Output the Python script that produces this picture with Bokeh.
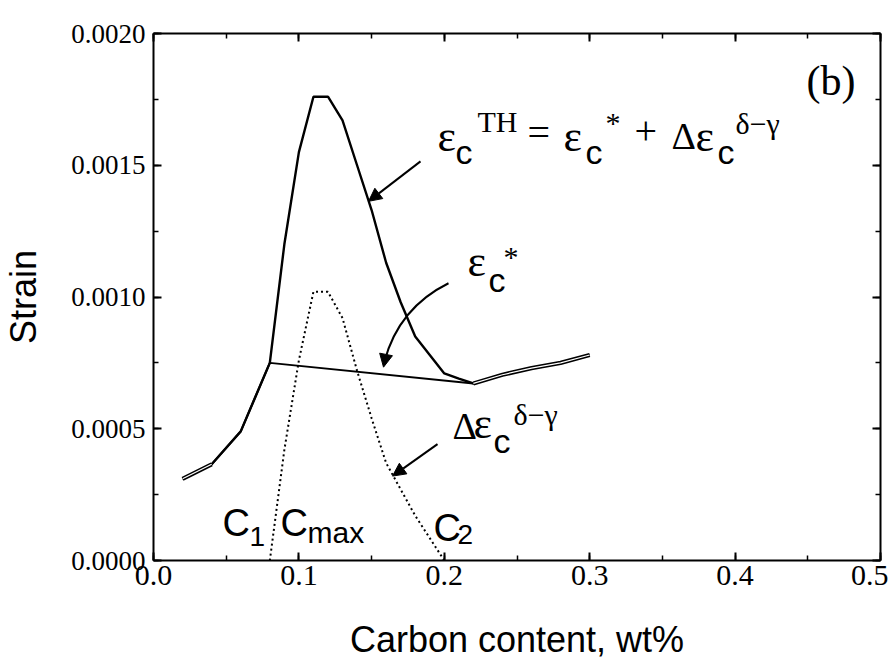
import math
from bokeh.plotting import figure
from bokeh.models import (LinearAxis, Range1d, PrintfTickFormatter, CustomJSTickFormatter,
                          Label, Arrow, NormalHead, SingleIntervalTicker)
from bokeh.embed import file_html
from bokeh.resources import INLINE

# ---------------- data ----------------
carbon_th = [0.02, 0.04, 0.06, 0.08, 0.09, 0.10, 0.11, 0.12, 0.13, 0.14, 0.15,
             0.16, 0.17, 0.18, 0.19, 0.20, 0.21, 0.22, 0.24, 0.26, 0.28, 0.30]
strain_th = [0.00031, 0.000365, 0.00049, 0.00075, 0.00120, 0.00155, 0.00176, 0.00176,
             0.00167, 0.00150, 0.00133, 0.00113, 0.00098, 0.00085, 0.00078, 0.00071,
             0.00069, 0.000672, 0.000705, 0.00073, 0.00075, 0.00078]

carbon_star = [0.02, 0.04, 0.06, 0.08, 0.22, 0.24, 0.26, 0.28, 0.30]
strain_star = [0.00031, 0.000365, 0.00049, 0.00075, 0.000672, 0.000705, 0.00073, 0.00075, 0.00078]

carbon_delta = [0.08, 0.09, 0.10, 0.11, 0.12, 0.13, 0.14, 0.15, 0.16, 0.18, 0.20]
strain_delta = [0.0, 0.00042, 0.00076, 0.00102, 0.00102, 0.00092, 0.00072, 0.00054,
                0.00037, 0.00017, 0.0]

x_ticks_step = 0.1
y_ticks_step = 0.0005
x_label = "Carbon content, wt%"
y_label = "Strain"

SERIF = "Liberation Serif"
SANS = "Liberation Sans"

# ---------------- figure ----------------
p = figure(width=888, height=662, output_backend="svg", toolbar_location=None,
           x_range=Range1d(0, 0.5), y_range=Range1d(0, 0.002),
           min_border_left=153, min_border_right=8, min_border_top=33, min_border_bottom=102)
p.grid.visible = False
p.outline_line_color = None
p.background_fill_color = "white"
p.border_fill_color = "white"


def style_axis(ax):
    ax.axis_line_width = 2
    ax.axis_line_color = "black"
    ax.major_tick_in = 8
    ax.major_tick_out = 0
    ax.minor_tick_in = 5
    ax.minor_tick_out = 0
    ax.major_tick_line_width = 2
    ax.minor_tick_line_width = 1.5
    ax.major_tick_line_color = "black"
    ax.minor_tick_line_color = "black"
    ax.major_label_text_color = "black"


xax = p.xaxis[0]
xax.ticker = SingleIntervalTicker(interval=x_ticks_step, num_minor_ticks=2)
xax.formatter = PrintfTickFormatter(format="%.1f")
xax.major_label_text_font = SERIF
xax.major_label_text_font_size = "30px"
xax.major_label_standoff = 5
xax.axis_label = x_label
xax.axis_label_text_font = SANS
xax.axis_label_text_font_size = "36px"
xax.axis_label_text_font_style = "normal"
xax.axis_label_text_color = "black"
xax.axis_label_standoff = 31
style_axis(xax)

yax = p.yaxis[0]
yax.ticker = SingleIntervalTicker(interval=y_ticks_step, num_minor_ticks=2)
yax.formatter = PrintfTickFormatter(format="%.4f")
yax.major_label_text_font = SERIF
yax.major_label_text_font_size = "27px"
yax.major_label_standoff = 8
yax.axis_label = y_label
yax.axis_label_text_font = SANS
yax.axis_label_text_font_size = "36px"
yax.axis_label_text_font_style = "normal"
yax.axis_label_text_color = "black"
yax.axis_label_standoff = 24
style_axis(yax)

top = LinearAxis(ticker=SingleIntervalTicker(interval=x_ticks_step, num_minor_ticks=2),
                 formatter=CustomJSTickFormatter(code="return ''"), major_label_standoff=0)
style_axis(top)
p.add_layout(top, "above")
right = LinearAxis(ticker=SingleIntervalTicker(interval=y_ticks_step, num_minor_ticks=2),
                   formatter=CustomJSTickFormatter(code="return ''"), major_label_standoff=0)
style_axis(right)
p.add_layout(right, "right")

# ---------------- lines ----------------
p.line(carbon_th, strain_th, line_color="black", line_width=2.4)
p.line(carbon_star, strain_star, line_color="black", line_width=2.0)
# double-line look where the two curves coincide
for lo, hi in ((0.0, 0.04), (0.22, 1.0)):
    xs = [c for c in carbon_star if lo <= c <= hi]
    ys = [s for c, s in zip(carbon_star, strain_star) if lo <= c <= hi]
    p.line(xs, ys, line_color="black", line_width=4.2)
    p.line(xs, ys, line_color="white", line_width=1.2)
p.line(carbon_delta, strain_delta, line_color="black", line_width=2.0, line_dash="2 3")


# ---------------- annotations (placed in picture pixels) ----------------
def px_x(px):
    return (px - 153.0) / 1454.0


def px_y(py):
    return (559.5 - py) / 263750.0


MID = 0.345  # distance (in em) from baseline up to the middle of the text box


def add_text(text, px, base, size, font):
    p.add_layout(Label(x=px_x(px), y=px_y(base - MID * size), text=text, text_font=font,
                       text_font_size=f"{size}px", text_color="black", text_align="left",
                       text_baseline="middle"))


pieces = [
    # equation
    ("ε", 437, 150, 44, SERIF), ("c", 455, 162, 34, SANS), ("TH", 477, 130, 30, SERIF),
    ("=", 527, 145, 40, SERIF),
    ("ε", 563, 150, 44, SERIF), ("c", 585, 162, 34, SANS), ("*", 605, 131, 30, SERIF),
    ("+", 634, 143, 40, SERIF),
    ("Δ", 671, 148, 38, SERIF), ("ε", 695, 150, 44, SERIF), ("c", 717, 162, 34, SANS),
    ("δ−γ", 735, 132, 30, SERIF),
    # eps_c*
    ("ε", 467, 275, 44, SERIF), ("c", 488, 290, 34, SANS), ("*", 503, 266, 30, SERIF),
    # delta eps
    ("Δ", 452, 438, 38, SERIF), ("ε", 473, 438, 44, SERIF), ("c", 493, 452, 34, SANS),
    ("δ−γ", 513, 424, 30, SERIF),
    # C labels
    ("C", 222, 535, 38, SANS), ("1", 249, 545, 28, SANS),
    ("C", 280, 535, 38, SANS), ("max", 307, 542, 30, SANS),
    ("C", 433, 540, 38, SANS), ("2", 457, 543, 28, SANS),
    # panel tag
    ("(b)", 806, 94, 42, SERIF),
]
for t, x0, b0, s, f in pieces:
    add_text(t, x0, b0, s, f)

# arrows
head = dict(size=13, fill_color="black", line_color="black", line_width=1)
p.add_layout(Arrow(end=NormalHead(**head), x_start=px_x(420), y_start=px_y(160),
                   x_end=px_x(368), y_end=px_y(200), line_width=2, line_color="black"))
p.add_layout(Arrow(end=NormalHead(**head), x_start=px_x(437), y_start=px_y(443),
                   x_end=px_x(392), y_end=px_y(475), line_width=2, line_color="black"))
# curved arrow to eps_c*
p.quadratic(x0=[px_x(448)], y0=[px_y(282)], x1=[px_x(384)], y1=[px_y(360)],
            cx=[px_x(398.5)], cy=[px_y(306.5)], line_color="black", line_width=2)
p.add_layout(Arrow(end=NormalHead(**head), x_start=px_x(385), y_start=px_y(356),
                   x_end=px_x(383), y_end=px_y(366), line_width=2, line_color="black"))

open("out.html", "w").write(file_html(p, INLINE))
